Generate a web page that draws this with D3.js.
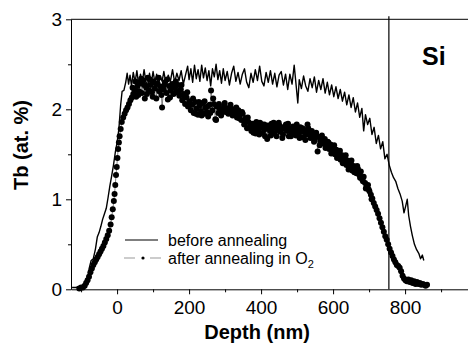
<!DOCTYPE html>
<html><head><meta charset="utf-8">
<script src="https://cdn.jsdelivr.net/npm/d3@7"></script>
<style>body{margin:0;background:#fff}svg{display:block}text{font-family:"Liberation Sans",Arial,sans-serif;fill:#000}</style>
</head><body><svg id="c" width="468" height="345"></svg>
<script>
// ---- data ----
const beforeDepth = [-125,-115,-105,-95,-88,-82,-77,-72,-66,-60,-55,-50,-45,-40,-35,-30,-25,-20,-15,-10,-5,0,5,10,14,19,24,28,32,36,40,45,50,55,60,65,70,75,80,85,90,95,100,105,110,115,120,125,130,136,142,148,154,160,166,172,178,184,190,196,200,205,210,215,220,225,230,235,240,245,250,255,260,265,270,275,280,285,290,295,300,306,312,318,324,330,336,342,348,354,360,366,372,378,384,390,396,402,408,414,420,426,432,438,444,450,456,462,468,474,480,486,492,498,502,506,512,518,524,530,536,542,548,554,560,566,572,578,584,590,596,602,608,614,620,626,632,638,644,650,656,662,668,674,680,685,690,696,702,708,714,720,726,732,738,744,750,756,762,768,774,780,786,792,797,802,806,810,815,820,826,832,838,843,848,852];
const beforeTb = [0.02,0.02,0.03,0.04,0.07,0.12,0.24,0.32,0.34,0.45,0.58,0.63,0.70,0.78,0.84,0.90,1.02,1.15,1.26,1.38,1.52,1.63,1.78,2.05,2.20,2.21,2.30,2.40,2.28,2.38,2.26,2.41,2.30,2.43,2.27,2.39,2.30,2.44,2.31,2.25,2.40,2.29,2.42,2.30,2.39,2.27,2.37,2.31,2.42,2.28,2.38,2.31,2.44,2.30,2.40,2.32,2.43,2.28,2.38,2.48,2.33,2.45,2.30,2.49,2.34,2.44,2.31,2.49,2.35,2.46,2.32,2.43,2.26,2.45,2.36,2.50,2.33,2.43,2.29,2.45,2.32,2.42,2.27,2.40,2.48,2.31,2.41,2.28,2.39,2.45,2.30,2.24,2.40,2.30,2.44,2.32,2.48,2.31,2.26,2.41,2.30,2.43,2.28,2.40,2.25,2.38,2.42,2.27,2.39,2.22,2.39,2.28,2.49,2.24,2.07,2.33,2.23,2.37,2.26,2.20,2.34,2.24,2.36,2.19,2.32,2.22,2.34,2.18,2.30,2.16,2.27,2.14,2.25,2.12,2.22,2.09,2.19,2.05,2.16,2.02,2.13,1.97,2.07,1.91,2.01,1.76,1.94,1.83,1.90,1.72,1.80,1.62,1.71,1.56,1.64,1.45,1.50,1.38,1.30,1.24,1.20,1.12,1.06,0.98,0.85,0.93,1.00,0.82,0.70,0.60,0.50,0.44,0.40,0.34,0.38,0.32];

const afterDepth = [-105,-100,-95,-90,-86,-82,-78,-74,-70,-66,-62,-58,-54,-50,-46,-42,-38,-34,-30,-26,-22,-18,-15,-12,-9,-7,-5,-3,-1,1,3,5,7,10,13,17,21,25,29,33,37,41,45,49,53,57,61,65,69,73,77,81,85,89,93,97,101,105,109,113,117,121,125,129,133,137,141,145,149,153,157,161,165,169,173,177,181,185,189,193,197,201,205,209,213,217,221,225,229,233,237,241,245,249,253,257,261,265,269,273,277,281,285,289,293,297,301,305,309,313,317,321,325,329,333,337,341,345,349,353,357,361,365,369,373,377,381,385,389,393,397,401,405,409,413,417,421,425,429,433,437,441,445,449,453,457,461,465,469,473,477,481,485,489,493,497,501,505,509,513,517,521,525,529,533,537,541,545,549,553,557,561,565,569,573,577,581,585,589,593,597,601,605,609,613,617,621,625,629,633,637,641,645,649,653,657,661,665,669,673,677,681,685,689,693,697,701,705,709,713,717,721,725,729,733,737,741,745,749,753,757,761,765,769,773,777,781,785,789,793,797,801,805,809,813,817,821,825,829,833,837,841,845,849,853,857,861];
const afterTb = [0.01,0.02,0.02,0.04,0.07,0.10,0.14,0.19,0.23,0.27,0.30,0.33,0.36,0.39,0.42,0.45,0.48,0.52,0.56,0.60,0.65,0.72,0.80,0.89,0.98,1.06,1.16,1.27,1.36,1.46,1.56,1.63,1.70,1.78,1.86,1.91,1.95,1.99,2.02,2.06,2.10,2.13,2.17,2.21,2.14,2.26,2.20,2.29,2.18,2.32,2.12,2.24,2.35,2.21,2.27,2.19,2.31,2.23,2.12,2.28,2.20,2.25,2.02,2.22,2.30,2.18,2.11,2.26,2.21,2.28,2.17,2.24,2.19,2.27,2.15,2.22,2.10,2.17,2.06,2.13,2.03,2.09,1.99,2.05,1.96,2.08,2.01,1.94,2.04,1.98,2.07,1.95,2.02,1.97,1.92,2.05,2.21,1.99,2.06,1.89,2.03,1.96,2.01,1.93,1.99,2.04,1.97,2.01,1.95,2.02,1.98,1.93,2.00,1.96,1.91,1.99,1.94,1.88,1.95,1.83,1.90,1.79,1.86,1.81,1.76,1.84,1.79,1.73,1.82,1.77,1.85,1.80,1.74,1.83,1.78,1.67,1.81,1.76,1.84,1.79,1.73,1.81,1.77,1.85,1.75,1.80,1.72,1.78,1.83,1.76,1.70,1.79,1.74,1.81,1.76,1.71,1.78,1.73,1.80,1.75,1.69,1.77,1.72,1.83,1.74,1.68,1.76,1.70,1.66,1.74,1.53,1.69,1.64,1.71,1.62,1.67,1.59,1.64,1.56,1.61,1.53,1.58,1.50,1.55,1.47,1.52,1.44,1.49,1.41,1.46,1.38,1.43,1.35,1.40,1.32,1.37,1.33,1.29,1.34,1.27,1.31,1.22,1.25,1.18,1.14,1.16,1.09,1.05,1.01,0.96,0.92,0.88,0.84,0.79,0.74,0.69,0.64,0.59,0.55,0.50,0.45,0.41,0.37,0.33,0.30,0.27,0.26,0.24,0.20,0.15,0.12,0.10,0.09,0.11,0.08,0.10,0.07,0.09,0.06,0.08,0.06,0.07,0.05,0.06,0.05,0.04,0.05];
// extra scattered measurements of the annealed sample (second scan points)
const afterScatterDepth = [43,51,59,67,75,83,91,99,107,115,123,131,139,147,155,163,171,179,187,195,203,211,219,227,235,243,251,259,267,275,283,291,299,307,315,323,331,339,347,355,363,371,379,387,395,403,411,419,427,435,443,451,459,467,475,483,491,499,507,515,523,531,539,547,555,563,571,579,587,595,603,611,619,627,635,643,651,659,667,675,683,691,699,707];
const afterScatterTb = [2.24,2.31,2.16,2.34,2.27,2.17,2.33,2.14,2.29,2.35,2.16,2.27,2.33,2.13,2.24,2.31,2.20,2.27,2.14,2.19,2.05,2.12,1.95,2.08,1.93,2.09,2.03,1.96,2.12,1.88,2.06,1.97,2.07,1.99,2.05,1.97,2.02,1.90,1.97,1.86,1.91,1.84,1.74,1.86,1.72,1.83,1.70,1.82,1.71,1.85,1.70,1.82,1.68,1.80,1.84,1.70,1.78,1.83,1.68,1.79,1.66,1.79,1.72,1.64,1.70,1.60,1.67,1.57,1.63,1.51,1.60,1.46,1.54,1.40,1.49,1.33,1.43,1.30,1.37,1.24,1.20,1.12,1.11,1.00];

const xMajorTicks = [0,200,400,600,800];
const xMinorTicks = [-100,100,300,500,700,900];
const yMajorTicks = [0,1,2,3];
const yMinorTicks = [0.5,1.5,2.5];
const interfaceDepth = 755;
const legendLabels = ["before annealing","after annealing in O"];
const xTitle = "Depth (nm)";
const yTitle = "Tb (at. %)";
const regionLabel = "Si";

// ---- drawing ----
const svg = d3.select("#c");
const x = d3.scaleLinear().domain([-128, 1000]).range([71, 71 + 1128*0.36]);
const y = d3.scaleLinear().domain([0, 3]).range([289.3, 19.3]);
const FONT = '"Liberation Sans",Arial,sans-serif';

const bottom = svg.append("g").attr("transform", `translate(0,${y(0)})`);
bottom.call(d3.axisBottom(x).tickValues(xMajorTicks).tickSize(5).tickSizeOuter(0).tickPadding(6));
bottom.call(g => g.selectAll("text").attr("font-size", 19).attr("font-family", FONT));
svg.append("g").attr("transform", `translate(0,${y(0)})`)
  .call(d3.axisBottom(x).tickValues(xMinorTicks).tickSize(3).tickFormat("").tickSizeOuter(0))
  .call(g => g.select(".domain").remove());

const left = svg.append("g").attr("transform", `translate(${x.range()[0]},0)`);
left.call(d3.axisLeft(y).tickValues(yMajorTicks).tickSize(5).tickSizeOuter(0).tickPadding(4).tickFormat(d3.format("d")));
left.call(g => g.selectAll("text").attr("font-size", 19).attr("font-family", FONT));
svg.append("g").attr("transform", `translate(${x.range()[0]},0)`)
  .call(d3.axisLeft(y).tickValues(yMinorTicks).tickSize(3).tickFormat("").tickSizeOuter(0))
  .call(g => g.select(".domain").remove());

// top frame line
svg.append("line").attr("x1", x.range()[0]).attr("x2", x.range()[1]).attr("y1", y(3)).attr("y2", y(3)).attr("stroke", "#000");

// interface line
svg.append("line").attr("x1", x(interfaceDepth)).attr("x2", x(interfaceDepth))
  .attr("y1", y(3) - 3).attr("y2", y(0)).attr("stroke", "#000").attr("stroke-width", 1.2);

svg.append("text").attr("x", x(interfaceDepth) + 45).attr("y", 65).attr("text-anchor", "middle")
  .attr("font-size", 25).attr("font-weight", "bold").text(regionLabel);

// after annealing: thin connecting line + dots
const after = afterDepth.map((d, i) => [d, afterTb[i]])
  .concat(afterScatterDepth.map((d, i) => [d, afterScatterTb[i]]))
  .sort((a, b) => a[0] - b[0]);
svg.append("path").datum(after).attr("fill", "none").attr("stroke", "#666").attr("stroke-width", 0.8)
  .attr("d", d3.line().x(d => x(d[0])).y(d => y(d[1])));
svg.append("g").selectAll("circle").data(after).join("circle")
  .attr("cx", d => x(d[0])).attr("cy", d => y(d[1])).attr("r", 3).attr("fill", "#000");

// before annealing line
const before = beforeDepth.map((d, i) => [d, beforeTb[i]]);
svg.append("path").datum(before).attr("fill", "none").attr("stroke", "#000").attr("stroke-width", 1.4)
  .attr("stroke-linejoin", "round")
  .attr("d", d3.line().x(d => x(d[0])).y(d => y(d[1])));

// titles
svg.append("text").attr("x", (x(0) + x(800)) / 2 - 4).attr("y", 339).attr("text-anchor", "middle")
  .attr("font-size", 20).attr("font-weight", "bold").text(xTitle);
svg.append("text").attr("transform", "translate(28,145) rotate(-90)").attr("text-anchor", "middle")
  .attr("font-size", 20).attr("font-weight", "bold").text(yTitle);

// legend
const lg = svg.append("g");
lg.append("line").attr("x1", 125).attr("x2", 158).attr("y1", 240).attr("y2", 240).attr("stroke", "#000").attr("stroke-width", 1.2);
lg.append("text").attr("x", 168).attr("y", 245.5).attr("font-size", 16).text(legendLabels[0]);
lg.append("line").attr("x1", 124).attr("x2", 162).attr("y1", 258).attr("y2", 258).attr("stroke", "#999").attr("stroke-width", 1)
  .attr("stroke-dasharray", "11,15");
lg.append("circle").attr("cx", 143).attr("cy", 258).attr("r", 1.6).attr("fill", "#000");
const t2 = lg.append("text").attr("x", 168).attr("y", 263.5).attr("font-size", 16).text(legendLabels[1]);
t2.append("tspan").attr("font-size", 11).attr("dy", 4).text("2");

svg.selectAll(".domain, .tick line").attr("stroke", "#000");
</script></body></html>
